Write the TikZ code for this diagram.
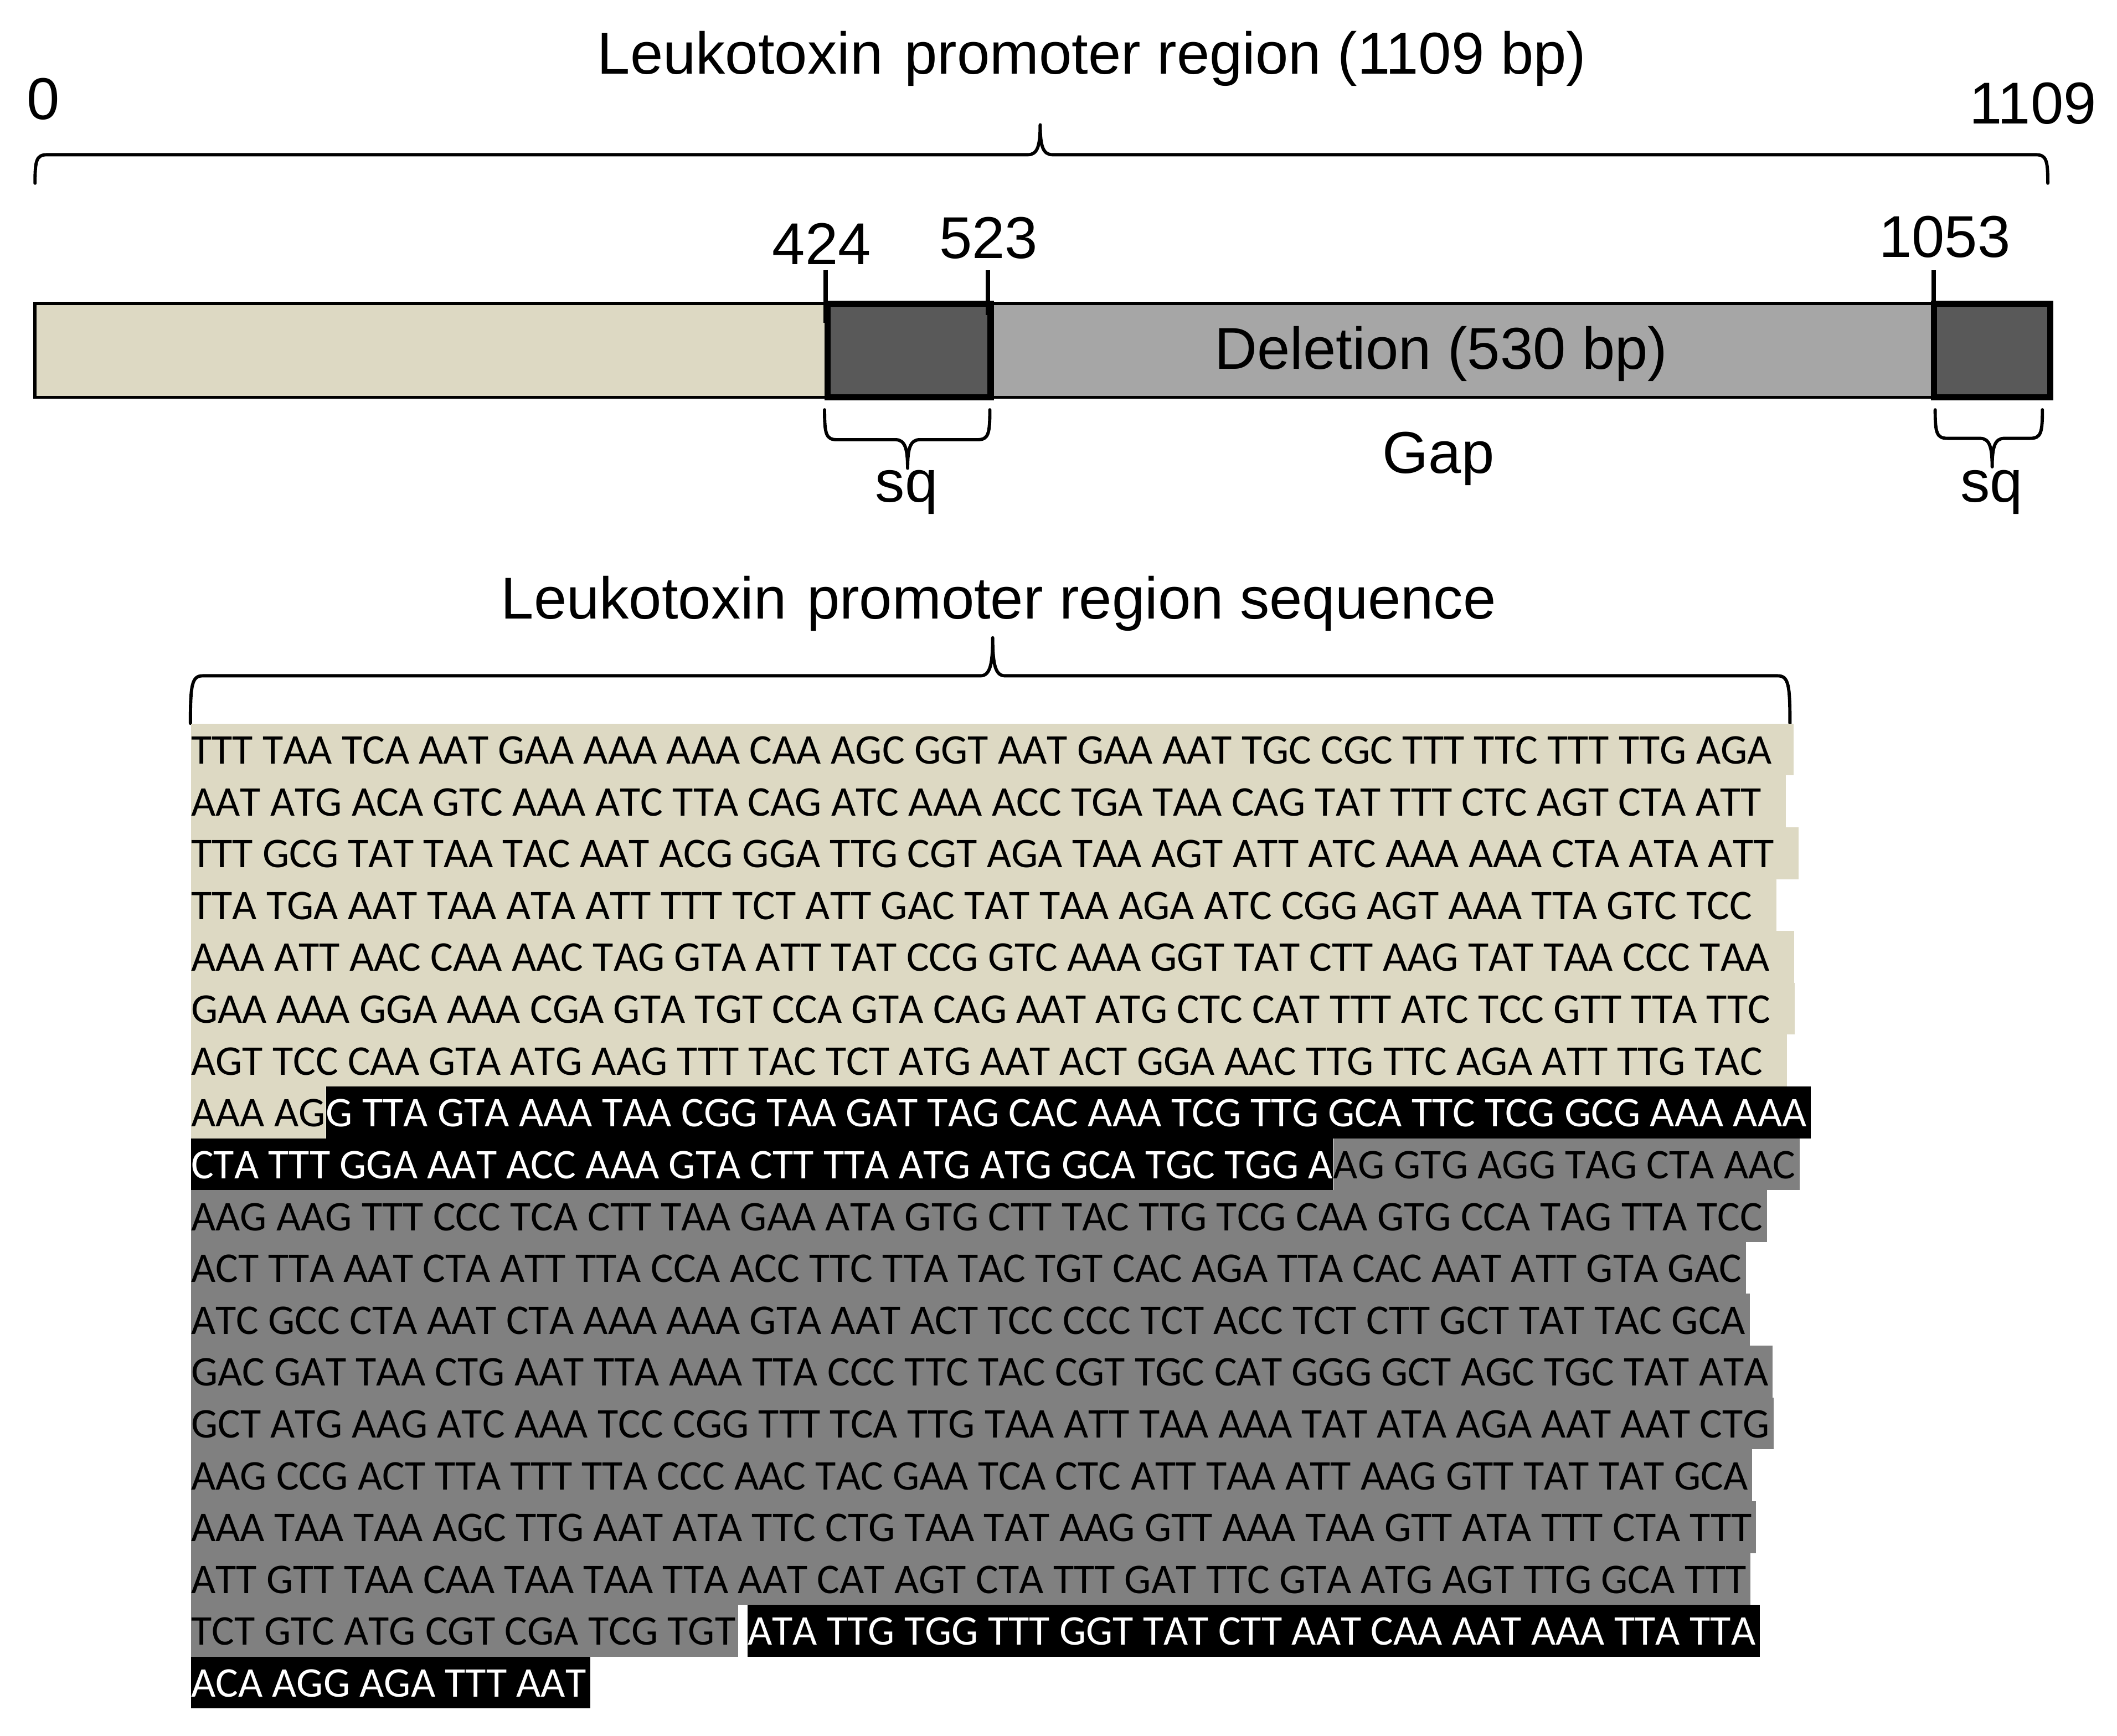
\documentclass[tikz,border=0pt]{standalone}
\usepackage{fontspec}
\setmainfont{Liberation Sans}
\newfontfamily\seqfont{Carlito}[Kerning=Off]
\definecolor{beige}{RGB}{221,217,195}
\definecolor{hlgray}{RGB}{128,128,128}
\definecolor{darkseg}{RGB}{89,89,89}
\definecolor{lightseg}{RGB}{166,166,166}
\tikzset{
  lbl/.style={font={\fontsize{43.5}{50}\selectfont}, inner sep=0pt, anchor=base},
  seqbase/.style={font={\seqfont\fontsize{31.2}{38.2}\selectfont}, inner sep=0pt,
     text height=29.7pt, text depth=8.5pt, anchor=base west},
  bg/.style={seqbase, fill=beige, text=black},
  bk/.style={seqbase, fill=black, text=white},
  gy/.style={seqbase, fill=hlgray, text=black},
  plainsp/.style={seqbase},
  bracel/.style={line width=2.4pt, line cap=round, line join=round},
  segline/.style={line width=2.4pt},
  darkbox/.style={fill=darkseg, draw=black, line width=4.5pt},
  tick/.style={line width=3.3pt}
}
% #1 x1, #2 x2, #3 xm, #4 yend, #5 yline, #6 ytip
\newcommand\mybrace[6]{%
  \draw[bracel] (#1,#4) .. controls ({#1},{#5+0.2*(#4-#5)}) and ({#1+1},{#5}) .. ({#1+9},{#5})
    -- ({#3-9},{#5}) .. controls ({#3-2},{#5}) and ({#3},{#5+0.3*(#6-#5)}) .. ({#3},{#6})
    .. controls ({#3},{#5+0.3*(#6-#5)}) and ({#3+2},{#5}) .. ({#3+9},{#5})
    -- ({#2-9},{#5}) .. controls ({#2-1},{#5}) and ({#2},{#5+0.2*(#4-#5)}) .. (#2,#4);}
\begin{document}
\begin{tikzpicture}[x=1pt,y=-1pt]
\useasboundingbox (0,0) rectangle (1560,1279);
% ---------- top map ----------
\node[lbl, anchor=base west] (title) at (440,54.3) {Leukotoxin\hspace{4pt} promoter region (1109 bp)};
\node[lbl] (zero) at (32,88) {0};
\node[lbl] (end) at (1498,91) {1109};
\mybrace{25.8}{1509}{766.5}{135}{114}{92}

\coordinate (barL) at (25.8,223.7);
\coordinate (barR) at (1511,292.8);
\filldraw[fill=beige, segline] (25.8,223.7) rectangle (610,292.8);
\filldraw[fill=lightseg, segline] (730,223.7) rectangle (1511,292.8);
\draw[darkbox] (610,223.7) rectangle (730,292.8);
\draw[darkbox] (1425,223.7) rectangle (1511,292.8);
\node[lbl] (del) at (1062,272) {Deletion (530 bp)};

\draw[tick] (608.4,199) -- (608.4,238);
\draw[tick] (727.8,199) -- (727.8,232);
\draw[tick] (1425,199) -- (1425,238);
\node[lbl] (p424) at (605.5,194.9) {424};
\node[lbl] (p523) at (728.5,190.3) {523};
\node[lbl] (p1053) at (1433,189.5) {1053};

\mybrace{607.6}{729.4}{668.8}{302}{324}{345}
\mybrace{1426}{1505}{1468}{302}{323}{344}
\node[lbl] (sq1) at (668,370) {sq};
\node[lbl] (sq2) at (1467.5,370) {sq};
\node[lbl] (gap) at (1060,348.7) {Gap};

% ---------- sequence ----------
\node[lbl, anchor=base west] (seqtitle) at (369,456) {Leukotoxin\hspace{3pt} promoter region sequence};
\mybrace{140.3}{1319}{731.5}{533}{498}{470}

\node[bg] (r1) at (140.6,{562.9+0*38.2}) {TTT TAA TCA AAT GAA AAA AAA CAA AGC GGT AAT GAA AAT TGC CGC TTT TTC TTT TTG AGA\kern16pt};
\node[bg] (r2) at (140.6,{562.9+1*38.2}) {AAT ATG ACA GTC AAA ATC TTA CAG ATC AAA ACC TGA TAA CAG TAT TTT CTC AGT CTA ATT\kern18pt};
\node[bg] (r3) at (140.6,{562.9+2*38.2}) {TTT GCG TAT TAA TAC AAT ACG GGA TTG CGT AGA TAA AGT ATT ATC AAA AAA CTA ATA ATT\kern18pt};
\node[bg] (r4) at (140.6,{562.9+3*38.2}) {TTA TGA AAT TAA ATA ATT TTT TCT ATT GAC TAT TAA AGA ATC CGG AGT AAA TTA GTC TCC\kern18pt};
\node[bg] (r5) at (140.6,{562.9+4*38.2}) {AAA ATT AAC CAA AAC TAG GTA ATT TAT CCG GTC AAA GGT TAT CTT AAG TAT TAA CCC TAA\kern18pt};
\node[bg] (r6) at (140.6,{562.9+5*38.2}) {GAA AAA GGA AAA CGA GTA TGT CCA GTA CAG AAT ATG CTC CAT TTT ATC TCC GTT TTA TTC\kern18pt};
\node[bg] (r7) at (140.6,{562.9+6*38.2}) {AGT TCC CAA GTA ATG AAG TTT TAC TCT ATG AAT ACT GGA AAC TTG TTC AGA ATT TTG TAC\kern18pt};
\node[bg] (r8a) at (140.6,{562.9+7*38.2}) {AAA AG};
\node[bk] (r8b) at (r8a.base east) {G TTA GTA AAA TAA CGG TAA GAT TAG CAC AAA TCG TTG GCA TTC TCG GCG AAA AAA\kern3pt};
\node[bk] (r9a) at (140.6,{562.9+8*38.2}) {CTA TTT GGA AAT ACC AAA GTA CTT TTA ATG ATG GCA TGC TGG A};
\node[gy] (r9b) at (r9a.base east) {AG GTG AGG TAG CTA AAC\kern3pt};
\node[gy] (r10) at (140.6,{562.9+9*38.2}) {AAG AAG TTT CCC TCA CTT TAA GAA ATA GTG CTT TAC TTG TCG CAA GTG CCA TAG TTA TCC\kern3pt};
\node[gy] (r11) at (140.6,{562.9+10*38.2}) {ACT TTA AAT CTA ATT TTA CCA ACC TTC TTA TAC TGT CAC AGA TTA CAC AAT ATT GTA GAC\kern3pt};
\node[gy] (r12) at (140.6,{562.9+11*38.2}) {ATC GCC CTA AAT CTA AAA AAA GTA AAT ACT TCC CCC TCT ACC TCT CTT GCT TAT TAC GCA\kern3pt};
\node[gy] (r13) at (140.6,{562.9+12*38.2}) {GAC GAT TAA CTG AAT TTA AAA TTA CCC TTC TAC CGT TGC CAT GGG GCT AGC TGC TAT ATA\kern3pt};
\node[gy] (r14) at (140.6,{562.9+13*38.2}) {GCT ATG AAG ATC AAA TCC CGG TTT TCA TTG TAA ATT TAA AAA TAT ATA AGA AAT AAT CTG\kern3pt};
\node[gy] (r15) at (140.6,{562.9+14*38.2}) {AAG CCG ACT TTA TTT TTA CCC AAC TAC GAA TCA CTC ATT TAA ATT AAG GTT TAT TAT GCA\kern3pt};
\node[gy] (r16) at (140.6,{562.9+15*38.2}) {AAA TAA TAA AGC TTG AAT ATA TTC CTG TAA TAT AAG GTT AAA TAA GTT ATA TTT CTA TTT\kern3pt};
\node[gy] (r17) at (140.6,{562.9+16*38.2}) {ATT GTT TAA CAA TAA TAA TTA AAT CAT AGT CTA TTT GAT TTC GTA ATG AGT TTG GCA TTT\kern3pt};
\node[gy] (r18a) at (140.6,{562.9+17*38.2}) {TCT GTC ATG CGT CGA TCG TGT\kern2pt};
\node[plainsp] (r18s) at (r18a.base east) {\kern6pt};
\node[bk] (r18b) at (r18s.base east) {ATA TTG TGG TTT GGT TAT CTT AAT CAA AAT AAA TTA TTA\kern3pt};
\node[bk] (r19) at (140.6,{562.9+18*38.2}) {ACA AGG AGA TTT AAT\kern3pt};
\end{tikzpicture}
\end{document}
